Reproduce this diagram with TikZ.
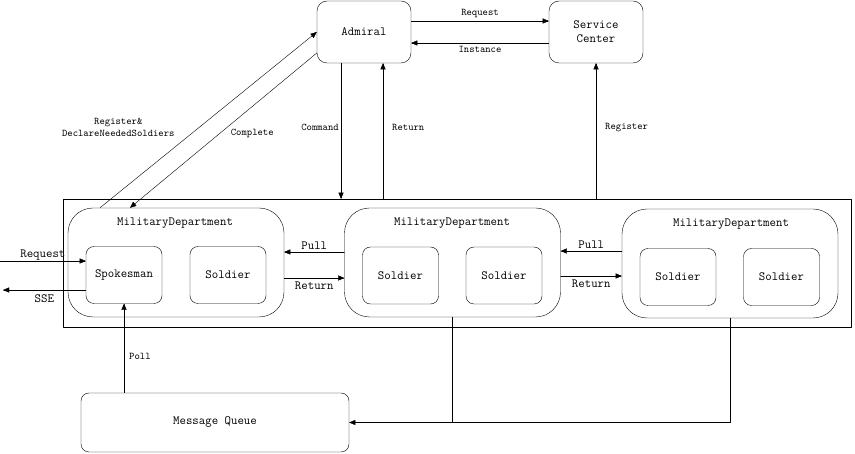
\documentclass[tikz,border=0pt]{standalone}
\usepackage{tikz}
\usetikzlibrary{arrows}

\begin{document}
\begin{tikzpicture}[line cap=round,line join=round,>=triangle 45,x=1pt,y=-1pt,
    big/.style={font=\ttfamily\fontsize{12.5}{14}\selectfont},
    small/.style={font=\ttfamily\fontsize{10.2}{12}\selectfont},
    box/.style={draw,big,align=center,inner sep=0pt,rounded corners=10pt},
    dept/.style={draw,inner sep=0pt,rounded corners=25pt,minimum width=216pt,minimum height=109pt},
    soldier/.style={box,rounded corners=8pt,minimum width=76pt,minimum height=57pt},
    lbl/.style={small,inner sep=1pt}]
        \useasboundingbox (0,0) rectangle (855,454);
        % top
        \node[box,minimum width=94pt,minimum height=62pt] (adm) at (364,32) {Admiral};
        \node[box,minimum width=94pt,minimum height=62pt] (sc) at (596,32) {Service\\Center};
        % departments
        \node[draw,inner sep=0pt,minimum width=788pt,minimum height=128pt] (outer) at (457,263) {};
        \node[dept] (dep1) at (176,262.5) {};
        \node[dept] (dep2) at (452.5,262.5) {};
        \node[dept] (dep3) at (730,263.5) {};
        \node[big] (t1) at (175,223) {MilitaryDepartment};
        \node[big] (t2) at (452,223) {MilitaryDepartment};
        \node[big] (t3) at (731,224) {MilitaryDepartment};
        \node[soldier] (spk) at (124,275) {Spokesman};
        \node[soldier] (sol1) at (228,275) {Soldier};
        \node[soldier] (sol2) at (400.5,275.5) {Soldier};
        \node[soldier] (sol3) at (504,275.5) {Soldier};
        \node[soldier] (sol4) at (678,277) {Soldier};
        \node[soldier] (sol5) at (781.5,277) {Soldier};
        \node[box,rounded corners=8pt,minimum width=268pt,minimum height=59pt] (mq) at (215,422.5) {Message Queue};
        \coordinate (reqin) at (0,261);
        \coordinate (sseout) at (3,290);
        % admiral and service center
        \draw[->] ([yshift=11pt]adm.east) -- ([yshift=11pt]sc.west) node[lbl,midway,above=2pt] {Request};
        \draw[->] ([yshift=-11pt]sc.west) -- ([yshift=-11pt]adm.east) node[lbl,midway,below=2pt] {Instance};
        \draw[->] ([xshift=-23pt]adm.south) -- ([xshift=-23pt]adm.south |- outer.north) node[lbl,midway,left=1pt,yshift=4pt] {Command};
        \draw[->] ([xshift=19pt]adm.south |- outer.north) -- ([xshift=19pt]adm.south) node[lbl,midway,right=8pt,yshift=4pt] {Return};
        \draw[->] (sc.south |- outer.north) -- (sc.south) node[lbl,midway,right=8pt,yshift=3pt] {Register};
        \draw[->] ([xshift=-76pt]dep1.north) -- (adm.west) node[lbl,pos=.46,left=24pt,align=center] {Register\&\\DeclareNeededSoldiers};
        \draw[->] ([yshift=-21pt]adm.west) -- ([xshift=-46pt]dep1.north) node[lbl,pos=.52,right=10pt] {Complete};
        % between departments
        \draw[->] ([yshift=10.5pt]dep2.west) -- ([yshift=10.5pt]dep2.west -| dep1.east) node[big,midway,above=-1pt] {Pull};
        \draw[->] ([yshift=-15.5pt]dep1.east) -- ([yshift=-15.5pt]dep1.east -| dep2.west) node[big,midway,below=0pt] {Return};
        \draw[->] ([yshift=12.5pt]dep3.west) -- ([yshift=12.5pt]dep3.west -| dep2.east) node[big,midway,above=-1pt] {Pull};
        \draw[->] ([yshift=-13.5pt]dep2.east) -- ([yshift=-13.5pt]dep2.east -| dep3.west) node[big,midway,below=0pt] {Return};
        % spokesman
        \draw[->] (reqin) -- (reqin -| spk.west) node[big,midway,above=-3pt] {Request};
        \draw[->] ([yshift=-15pt]spk.west) -- (sseout) node[big,midway,below=1pt] {SSE};
        \draw[->] (mq.north -| spk.south) -- (spk.south) node[lbl,midway,right=4pt,yshift=-8pt] {Poll};
        % message queue
        \draw (dep2.south) -- (dep2.south |- mq.east);
        \draw[->] (dep3.south) -- (dep3.south |- mq.east) -- (mq.east);
\end{tikzpicture}
\end{document}
